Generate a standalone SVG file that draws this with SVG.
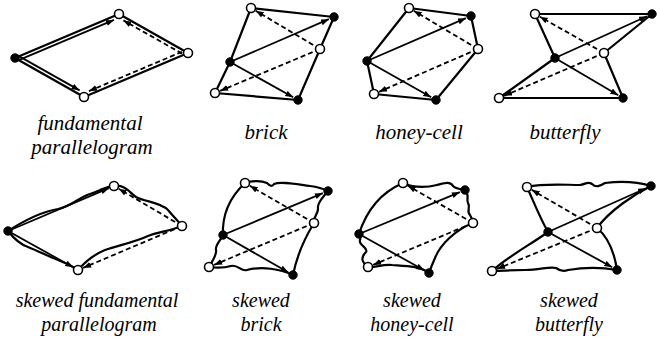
<svg xmlns="http://www.w3.org/2000/svg" width="657" height="338" viewBox="0 0 657 338">
<style>
.edge{fill:none;stroke:#000;stroke-width:2.2;stroke-linejoin:round;stroke-linecap:round}
.arr{fill:none;stroke:#000;stroke-width:1.8;marker-end:url(#ah)}
.dash{fill:none;stroke:#000;stroke-width:1.8;stroke-dasharray:5 3;marker-end:url(#ah)}
.bk{fill:#000;stroke:#000;stroke-width:1}
.op{fill:#fff;stroke:#000;stroke-width:1.6}
text{font-family:'Liberation Serif','Times New Roman',serif;font-style:italic;fill:#000;text-anchor:middle}
</style>
<defs>
<marker id="ah" markerUnits="userSpaceOnUse" markerWidth="9" markerHeight="7" refX="8" refY="3" orient="auto">
<path d="M0,0 L8,3 L0,6 z" fill="#000"/>
</marker>
</defs>
<rect width="657" height="338" fill="#fff"/>

<g id="edges">
<polygon class="edge" points="15,58 119,14 188,53 84,97"/>
<polygon class="edge" points="251,8 334,17 320,49 298,100 215,93 230,62"/>
<polygon class="edge" points="409,8 471,16 478,49 436,100 374,94 367,61"/>
<polygon class="edge" points="535,14 652,14 604,53 623,98 499,98 555,58"/>
<path class="edge" d="M8,231 C25,220 40,212 58,209 C72,206 78,198 90,194 C100,191 106,186 114,186"/>
<path class="edge" d="M8,231 C15,240 22,245 28,247 C38,251 48,256 58,260 C66,263 72,266 78,270"/>
<path class="edge" d="M114,186 C125,184 130,193 136,197 C145,202 160,202 168,210 C173,216 178,221 182,226"/>
<path class="edge" d="M182,226 C170,231 158,232 148,236 C135,242 120,245 105,250 C95,254 85,262 78,270"/>
<path class="edge" d="M245,183 C252,180 262,181 267,183 C270,186 272,187 274,184 C280,181 295,184 310,186 C318,187 324,189 328,191"/>
<path class="edge" d="M328,191 C322,198 317,204 318,209 C318,214 313,217 314,223"/>
<path class="edge" d="M314,223 C306,236 297,255 293,275"/>
<path class="edge" d="M293,275 C280,269 262,266 247,270 C241,272 238,264 231,266 C224,268 216,268 209,267"/>
<path class="edge" d="M209,267 C213,260 217,255 216,250 C215,245 221,240 223,235"/>
<path class="edge" d="M223,235 C222,215 230,197 245,183"/>
<path class="edge" d="M403,183 C412,187 425,188 437,185 C445,183 450,181 453,186 C456,189 461,189 465,190"/>
<path class="edge" d="M465,190 C470,195 466,199 468,203 C471,207 466,211 470,215 C472,218 472,220 473,223"/>
<path class="edge" d="M473,223 C455,230 440,245 435,258 C432,265 430,270 429,273"/>
<path class="edge" d="M429,273 C420,266 405,266 392,265 C382,264 375,268 368,267"/>
<path class="edge" d="M368,267 C362,262 360,258 366,252 C369,248 358,245 360,240 C361,237 360,236 359,234"/>
<path class="edge" d="M359,234 C366,212 380,193 403,183"/>
<path class="edge" d="M527,187 C545,183 565,185 580,185 C586,184 588,181 592,184 C596,188 600,186 605,183 C620,181 638,182 651,186"/>
<path class="edge" d="M651,186 C635,194 610,210 597,228"/>
<path class="edge" d="M597,228 C608,237 614,250 617,270"/>
<path class="edge" d="M617,270 C600,267 580,268 568,270 C563,272 560,271 556,268 C550,266 540,270 525,270 C510,270 500,271 492,271"/>
<path class="edge" d="M492,271 C510,255 530,245 548,232"/>
<path class="edge" d="M548,232 C540,218 535,205 527,187"/>
</g>

<g id="arrows">
<line class="arr" x1="16.4" y1="61.2" x2="114" y2="19.9"/>
<line class="arr" x1="16.7" y1="54.9" x2="79.6" y2="90.4"/>
<line class="dash" x1="182" y1="53.6" x2="123.4" y2="20.4"/>
<line class="dash" x1="182" y1="51.8" x2="89" y2="91.1"/>

<line class="arr" x1="230" y1="62" x2="328.9" y2="19.2"/>
<line class="arr" x1="230" y1="62" x2="293.2" y2="97.3"/>
<line class="dash" x1="320" y1="49" x2="255.7" y2="10.8"/>
<line class="dash" x1="320" y1="49" x2="220.1" y2="90.9"/>

<line class="arr" x1="367" y1="61" x2="465.9" y2="18.2"/>
<line class="arr" x1="367" y1="61" x2="431.2" y2="97.3"/>
<line class="dash" x1="478" y1="49" x2="413.7" y2="10.8"/>
<line class="dash" x1="478" y1="49" x2="379" y2="91.8"/>

<line class="arr" x1="555" y1="58" x2="647" y2="16.3"/>
<line class="arr" x1="555" y1="58" x2="618.3" y2="95.2"/>
<line class="dash" x1="604" y1="53" x2="539.8" y2="16.7"/>
<line class="dash" x1="604" y1="53" x2="504.1" y2="95.8"/>

<line class="arr" x1="8" y1="231" x2="108.9" y2="188.2"/>
<line class="arr" x1="8" y1="231" x2="73.2" y2="267.3"/>
<line class="dash" x1="182" y1="226" x2="118.7" y2="188.8"/>
<line class="dash" x1="182" y1="226" x2="83.1" y2="267.9"/>

<line class="arr" x1="223" y1="235" x2="322.9" y2="193.1"/>
<line class="arr" x1="223" y1="235" x2="288.2" y2="272.3"/>
<line class="dash" x1="314" y1="223" x2="249.8" y2="185.8"/>
<line class="dash" x1="314" y1="223" x2="214.1" y2="264.9"/>

<line class="arr" x1="359" y1="234" x2="459.9" y2="192.1"/>
<line class="arr" x1="359" y1="234" x2="424.2" y2="270.3"/>
<line class="dash" x1="473" y1="223" x2="407.8" y2="185.7"/>
<line class="dash" x1="473" y1="223" x2="373.1" y2="264.9"/>

<line class="arr" x1="548" y1="232" x2="646" y2="188.2"/>
<line class="arr" x1="548" y1="232" x2="612.2" y2="267.3"/>
<line class="dash" x1="597" y1="228" x2="531.7" y2="189.8"/>
<line class="dash" x1="597" y1="228" x2="497.1" y2="268.9"/>
</g>

<g id="fundamental">
<circle class="bk" cx="15" cy="58" r="4.2"/>
<circle class="op" cx="119" cy="14" r="4.5"/>
<circle class="op" cx="188" cy="53" r="4.5"/>
<circle class="op" cx="84" cy="97" r="4.5"/>
<text x="90" y="130" font-family="Liberation Serif, serif" font-style="italic" font-size="21">fundamental</text>
<text x="92" y="154" font-family="Liberation Serif, serif" font-style="italic" font-size="21">parallelogram</text>
</g>
<g id="brick">
<circle class="op" cx="251" cy="8" r="4.5"/>
<circle class="bk" cx="334" cy="17" r="4.2"/>
<circle class="op" cx="320" cy="49" r="4.5"/>
<circle class="bk" cx="230" cy="62" r="4.2"/>
<circle class="op" cx="215" cy="93" r="4.5"/>
<circle class="bk" cx="298" cy="100" r="4.2"/>
<text x="266" y="139" font-family="Liberation Serif, serif" font-style="italic" font-size="21">brick</text>
</g>
<g id="honey-cell">
<circle class="op" cx="409" cy="8" r="4.5"/>
<circle class="bk" cx="471" cy="16" r="4.2"/>
<circle class="op" cx="478" cy="49" r="4.5"/>
<circle class="bk" cx="367" cy="61" r="4.2"/>
<circle class="op" cx="374" cy="94" r="4.5"/>
<circle class="bk" cx="436" cy="100" r="4.2"/>
<text x="419" y="139" font-family="Liberation Serif, serif" font-style="italic" font-size="21">honey-cell</text>
</g>
<g id="butterfly">
<circle class="op" cx="535" cy="14" r="4.5"/>
<circle class="bk" cx="652" cy="14" r="4.2"/>
<circle class="op" cx="604" cy="53" r="4.5"/>
<circle class="bk" cx="555" cy="58" r="4.2"/>
<circle class="op" cx="499" cy="98" r="4.5"/>
<circle class="bk" cx="623" cy="98" r="4.2"/>
<text x="565" y="139" font-family="Liberation Serif, serif" font-style="italic" font-size="21">butterfly</text>
</g>
<g id="skewed-fundamental">
<circle class="bk" cx="8" cy="231" r="4.2"/>
<circle class="op" cx="114" cy="186" r="4.5"/>
<circle class="op" cx="182" cy="226" r="4.5"/>
<circle class="op" cx="78" cy="270" r="4.5"/>
<text x="97" y="307" font-family="Liberation Serif, serif" font-style="italic" font-size="20">skewed fundamental</text>
<text x="99" y="331" font-family="Liberation Serif, serif" font-style="italic" font-size="20">parallelogram</text>
</g>
<g id="skewed-brick">
<circle class="op" cx="245" cy="183" r="4.5"/>
<circle class="bk" cx="328" cy="191" r="4.2"/>
<circle class="op" cx="314" cy="223" r="4.5"/>
<circle class="bk" cx="223" cy="235" r="4.2"/>
<circle class="op" cx="209" cy="267" r="4.5"/>
<circle class="bk" cx="293" cy="275" r="4.2"/>
<text x="261" y="307" font-family="Liberation Serif, serif" font-style="italic" font-size="20">skewed</text>
<text x="261" y="331" font-family="Liberation Serif, serif" font-style="italic" font-size="20">brick</text>
</g>
<g id="skewed-honey-cell">
<circle class="op" cx="403" cy="183" r="4.5"/>
<circle class="bk" cx="465" cy="190" r="4.2"/>
<circle class="op" cx="473" cy="223" r="4.5"/>
<circle class="bk" cx="359" cy="234" r="4.2"/>
<circle class="op" cx="368" cy="267" r="4.5"/>
<circle class="bk" cx="429" cy="273" r="4.2"/>
<text x="412" y="307" font-family="Liberation Serif, serif" font-style="italic" font-size="20">skewed</text>
<text x="412" y="331" font-family="Liberation Serif, serif" font-style="italic" font-size="20">honey-cell</text>
</g>
<g id="skewed-butterfly">
<circle class="op" cx="527" cy="187" r="4.5"/>
<circle class="bk" cx="651" cy="186" r="4.2"/>
<circle class="op" cx="597" cy="228" r="4.5"/>
<circle class="bk" cx="548" cy="232" r="4.2"/>
<circle class="op" cx="492" cy="271" r="4.5"/>
<circle class="bk" cx="617" cy="270" r="4.2"/>
<text x="569" y="307" font-family="Liberation Serif, serif" font-style="italic" font-size="20">skewed</text>
<text x="569" y="331" font-family="Liberation Serif, serif" font-style="italic" font-size="20">butterfly</text>
</g>
</svg>
